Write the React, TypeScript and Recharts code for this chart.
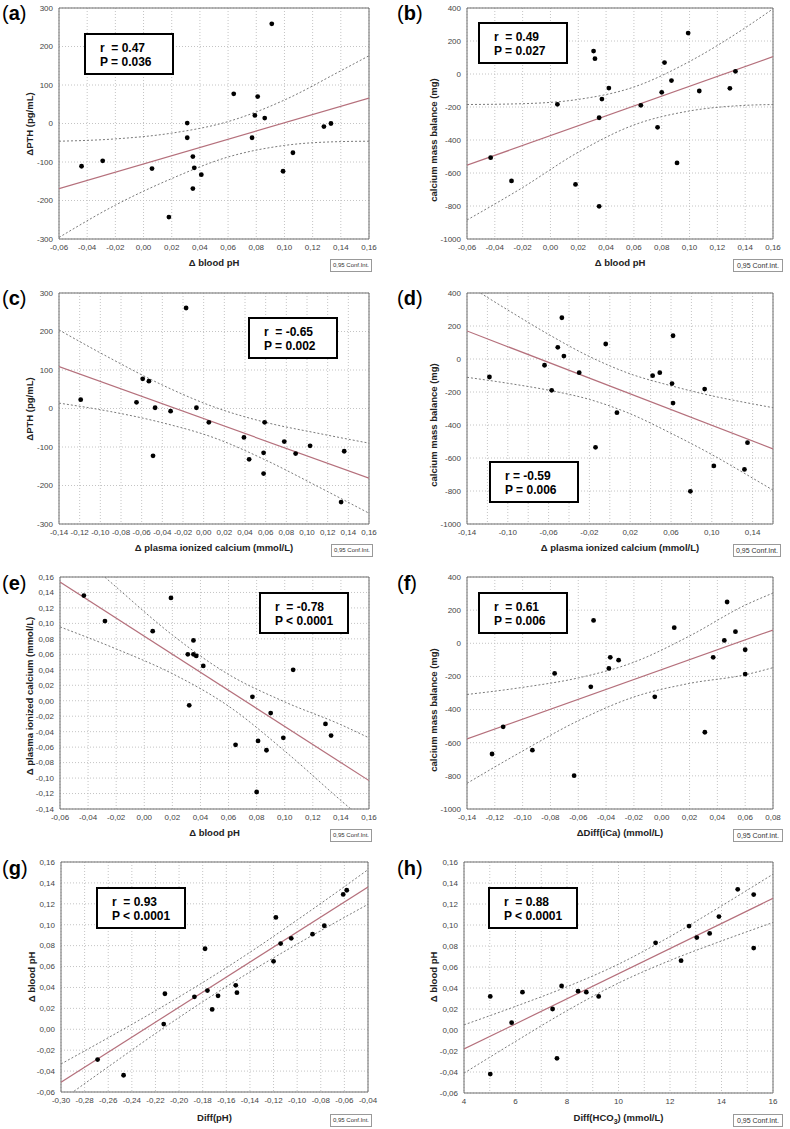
import React from "react";
import {
  ComposedChart,
  XAxis,
  YAxis,
  CartesianGrid,
  Scatter,
  Line,
  ReferenceArea
} from "recharts";

// ---------- (a) delta blood pH vs delta PTH ----------
const aX = [-0.044, -0.029, 0.006, 0.018, 0.031, 0.031, 0.035, 0.036, 0.035, 0.041, 0.064, 0.077, 0.081, 0.079, 0.086, 0.091, 0.099, 0.106, 0.128, 0.133];
const aY = [-111, -97, -117, -243, 1, -37, -86, -115, -169, -133, 77, -37, 70, 21, 14, 259, -124, -76, -8, 0];
const aFit = [-169, 66];
const aBandX = [-0.06, -0.02, 0.02, 0.06, 0.1, 0.14, 0.16];
const aUpper = [-46, -40, -25, 5, 61, 137, 176];
const aLower = [-296, -212, -143, -87, -57, -47, -46];

// ---------- (b) delta blood pH vs calcium mass balance ----------
const bX = [-0.043, -0.028, 0.005, 0.018, 0.031, 0.032, 0.035, 0.035, 0.037, 0.042, 0.065, 0.077, 0.08, 0.082, 0.087, 0.091, 0.099, 0.107, 0.129, 0.133];
const bY = [-507, -648, -184, -669, 139, 93, -265, -802, -152, -85, -190, -323, -111, 69, -40, -539, 248, -103, -87, 16];
const bFit = [-553, 105];
const bBandX = [-0.06, -0.02, 0.02, 0.06, 0.1, 0.14, 0.16];
const bUpper = [-185, -180, -154, -79, 76, 280, 395];
const bLower = [-885, -688, -474, -309, -224, -190, -185];

// ---------- (c) delta ionized calcium vs delta PTH ----------
const cX = [-0.119, -0.065, -0.059, -0.053, -0.047, -0.049, -0.032, -0.017, -0.007, 0.005, 0.039, 0.044, 0.058, 0.059, 0.058, 0.078, 0.089, 0.103, 0.133, 0.136];
const cY = [23, 16, 77, 71, 2, -123, -7, 261, 2, -36, -75, -132, -115, -36, -169, -86, -117, -97, -243, -111];
const cFit = [109, -181];
const cBandX = [-0.14, -0.09, -0.04, 0.01, 0.06, 0.11, 0.16];
const cUpper = [204, 130, 61, 4, -36, -64, -90];
const cLower = [14, -8, -37, -76, -134, -202, -272];

// ---------- (d) delta ionized calcium vs calcium mass balance ----------
const dX = [-0.118, -0.064, -0.057, -0.051, -0.047, -0.045, -0.03, -0.014, -0.004, 0.007, 0.042, 0.049, 0.061, 0.062, 0.062, 0.079, 0.093, 0.102, 0.132, 0.135];
const dY = [-109, -38, -190, 71, 250, 18, -83, -535, 91, -325, -101, -83, -149, 141, -267, -802, -182, -648, -669, -507];
const dFit = [170, -545];
const dBandX = [-0.14, -0.1, -0.06, -0.02, 0.02, 0.06, 0.1, 0.14, 0.16];
const dUpper = [451, 297, 149, 15, -90, -162, -223, -272, -295];
const dLower = [-111, -147, -189, -245, -332, -450, -579, -722, -795];

// ---------- (e) delta blood pH vs delta ionized calcium ----------
const eX = [-0.043, -0.028, 0.006, 0.019, 0.031, 0.032, 0.035, 0.035, 0.037, 0.042, 0.065, 0.077, 0.08, 0.081, 0.087, 0.09, 0.099, 0.106, 0.129, 0.133];
const eY = [0.136, 0.103, 0.09, 0.133, 0.06, -0.006, 0.078, 0.06, 0.058, 0.045, -0.057, 0.005, -0.118, -0.052, -0.064, -0.016, -0.048, 0.04, -0.03, -0.045];
const eFit = [0.1535, -0.1033];
const eBandX = [-0.06, -0.02, 0.02, 0.06, 0.1, 0.14, 0.16];
const eUpper = [0.2115, 0.147, 0.085, 0.034, -0.0015, -0.031, -0.048];
const eLower = [0.0955, 0.067, 0.035, -0.007, -0.065, -0.129, -0.16];

// ---------- (f) delta Diff(iCa) vs calcium mass balance ----------
const fX = [-0.122, -0.114, -0.093, -0.077, -0.063, -0.051, -0.049, -0.038, -0.037, -0.031, -0.005, 0.009, 0.031, 0.037, 0.045, 0.047, 0.053, 0.06, 0.06];
const fY = [-668, -504, -645, -182, -799, -263, 138, -152, -85, -102, -323, 94, -537, -85, 17, 249, 70, -39, -186];
const fFit = [-577, 80];
const fBandX = [-0.14, -0.1, -0.06, -0.02, 0.02, 0.06, 0.08];
const fUpper = [-309, -266, -209, -114, 44, 230, 303];
const fLower = [-845, -650, -467, -324, -242, -190, -147];

// ---------- (g) Diff(pH) vs delta blood pH ----------
const gX = [-0.269, -0.247, -0.213, -0.212, -0.187, -0.178, -0.176, -0.172, -0.167, -0.152, -0.151, -0.12, -0.118, -0.114, -0.105, -0.087, -0.077, -0.061, -0.058];
const gY = [-0.029, -0.044, 0.005, 0.034, 0.031, 0.077, 0.037, 0.019, 0.032, 0.042, 0.035, 0.065, 0.107, 0.082, 0.087, 0.091, 0.099, 0.129, 0.133];
const gFit = [-0.0507, 0.1361];
const gBandX = [-0.3, -0.26, -0.22, -0.18, -0.14, -0.1, -0.06, -0.04];
const gUpper = [-0.0332, -0.0081, 0.0177, 0.0447, 0.0736, 0.1045, 0.1364, 0.1527];
const gLower = [-0.0682, -0.0359, -0.0041, 0.0263, 0.0548, 0.0815, 0.107, 0.1195];

// ---------- (h) Diff(HCO3) vs delta blood pH ----------
const hX = [5.02, 5.02, 5.85, 6.27, 7.44, 7.61, 7.79, 8.43, 8.75, 9.23, 11.44, 12.43, 12.74, 13.04, 13.54, 13.9, 14.63, 15.25, 15.25];
const hY = [0.032, -0.042, 0.007, 0.036, 0.02, -0.027, 0.042, 0.037, 0.036, 0.032, 0.083, 0.066, 0.099, 0.088, 0.092, 0.108, 0.134, 0.129, 0.078];
const hFit = [-0.0181, 0.1254];
const hBandX = [4, 6, 8, 10, 12, 14, 16];
const hUpper = [0.0049, 0.0225, 0.0412, 0.0627, 0.089, 0.1182, 0.1484];
const hLower = [-0.0411, -0.0109, 0.0184, 0.0447, 0.0662, 0.0848, 0.1024];

// ---------- axis ticks ----------
const pHTicks = [-0.06, -0.04, -0.02, 0, 0.02, 0.04, 0.06, 0.08, 0.1, 0.12, 0.14, 0.16];
const iCaTicks = [-0.14, -0.12, -0.1, -0.08, -0.06, -0.04, -0.02, 0, 0.02, 0.04, 0.06, 0.08, 0.1, 0.12, 0.14, 0.16];
const iCaLabelsD = [-0.14, -0.1, -0.06, -0.02, 0.02, 0.06, 0.1, 0.14];
const diffICaTicks = [-0.14, -0.12, -0.1, -0.08, -0.06, -0.04, -0.02, 0, 0.02, 0.04, 0.06, 0.08];
const diffPHTicks = [-0.3, -0.28, -0.26, -0.24, -0.22, -0.2, -0.18, -0.16, -0.14, -0.12, -0.1, -0.08, -0.06, -0.04];
const hco3Ticks = [4, 5, 6, 7, 8, 9, 10, 11, 12, 13, 14, 15, 16];
const hco3Labels = [4, 6, 8, 10, 12, 14, 16];
const pthTicks = [-300, -200, -100, 0, 100, 200, 300];
const balanceTicks = [-1000, -800, -600, -400, -200, 0, 200, 400];
const ionTicks = [-0.14, -0.12, -0.1, -0.08, -0.06, -0.04, -0.02, 0, 0.02, 0.04, 0.06, 0.08, 0.1, 0.12, 0.14, 0.16];
const bloodPHTicks = [-0.06, -0.04, -0.02, 0, 0.02, 0.04, 0.06, 0.08, 0.1, 0.12, 0.14, 0.16];

const FONT = "'Liberation Sans', Arial, sans-serif";

const zip = (xs: number[], ys: number[]) => xs.map((x, i) => ({ x, y: ys[i] }));

const dec2 = (v: number) => (Math.abs(v) < 1e-9 ? "0.00" : v.toFixed(2)).replace(".", ",");
const int0 = (v: number) => String(Math.round(v));
const only = (labels: number[], f: (v: number) => string) => (v: number) =>
  labels.some((l) => Math.abs(l - v) < 1e-9) ? f(v) : "";

interface PanelProps {
  letter: string;
  left: number;
  top: number;
  height: number;
  plot: [number, number, number, number]; // left, right, top, bottom
  xDomain: [number, number];
  yDomain: [number, number];
  xTicks: number[];
  yTicks: number[];
  xFmt: (v: number) => string;
  yFmt: (v: number) => string;
  xs: number[];
  ys: number[];
  fit: number[];
  bandX: number[];
  upper: number[];
  lower: number[];
  xTitle: React.ReactNode;
  yTitle: string;
  yTitlePos: [number, number];
  stats: [string, string];
  statsPos: [number, number];
  conf: [number, number];
}

const Panel: React.FC<PanelProps> = (p) => {
  const [pl, pr, pt, pb] = p.plot;
  const W = 395;
  const xAxisH = 20;
  const tickStyle = { fontSize: 8, fill: "#444", fontFamily: FONT };
  return (
    <div style={{ position: "absolute", left: p.left, top: p.top, width: W, height: p.height, fontFamily: FONT }}>
      <ComposedChart
        width={W}
        height={p.height}
        margin={{ top: pt, right: W - pr, left: 0, bottom: p.height - pb - xAxisH }}
      >
        <CartesianGrid stroke="#c4c4c4" strokeDasharray="1 2" />
        <XAxis
          type="number"
          dataKey="x"
          domain={p.xDomain}
          ticks={p.xTicks}
          interval={0}
          allowDataOverflow
          tickFormatter={p.xFmt}
          tick={tickStyle}
          tickLine={false}
          axisLine={false}
          tickSize={0}
          tickMargin={5}
          height={xAxisH}
        />
        <YAxis
          type="number"
          dataKey="y"
          domain={p.yDomain}
          ticks={p.yTicks}
          interval={0}
          allowDataOverflow
          tickFormatter={p.yFmt}
          tick={tickStyle}
          tickLine={false}
          axisLine={false}
          tickSize={0}
          tickMargin={6}
          width={pl}
        />
        <ReferenceArea
          x1={p.xDomain[0]}
          x2={p.xDomain[1]}
          y1={p.yDomain[0]}
          y2={p.yDomain[1]}
          fill="none"
          stroke="#6e6e6e"
          strokeWidth={1}
          ifOverflow="visible"
        />
        <Line
          data={zip(p.bandX, p.upper)}
          dataKey="y"
          type="monotone"
          stroke="#7a7a7a"
          strokeWidth={1}
          strokeDasharray="2 2"
          dot={false}
          activeDot={false}
          isAnimationActive={false}
        />
        <Line
          data={zip(p.bandX, p.lower)}
          dataKey="y"
          type="monotone"
          stroke="#7a7a7a"
          strokeWidth={1}
          strokeDasharray="2 2"
          dot={false}
          activeDot={false}
          isAnimationActive={false}
        />
        <Line
          data={zip(p.xDomain, p.fit)}
          dataKey="y"
          type="linear"
          stroke="#b5707c"
          strokeWidth={1.2}
          dot={false}
          activeDot={false}
          isAnimationActive={false}
        />
        <Scatter
          data={zip(p.xs, p.ys)}
          fill="#000"
          isAnimationActive={false}
          shape={(s: any) => <circle cx={s.cx} cy={s.cy} r={2.4} fill="#000" />}
        />
      </ComposedChart>

      {/* panel letter */}
      <div style={{ position: "absolute", left: 2, top: 3, fontSize: 20, lineHeight: "20px", color: "#000" }}>
        (<b>{p.letter}</b>)
      </div>

      {/* x title */}
      <div
        style={{
          position: "absolute",
          left: pl,
          width: pr - pl,
          top: 257,
          textAlign: "center",
          fontSize: 9.5,
          fontWeight: "bold",
          lineHeight: "12px",
          color: "#222"
        }}
      >
        {p.xTitle}
      </div>

      {/* y title */}
      <div
        style={{
          position: "absolute",
          left: p.yTitlePos[0] - 120,
          top: p.yTitlePos[1] - 6,
          width: 240,
          height: 12,
          textAlign: "center",
          fontSize: 9.5,
          fontWeight: "bold",
          lineHeight: "12px",
          color: "#222",
          transform: "rotate(-90deg)"
        }}
      >
        {p.yTitle}
      </div>

      {/* stats box */}
      <div
        style={{
          position: "absolute",
          left: p.statsPos[0],
          top: p.statsPos[1],
          width: 90,
          height: 42,
          boxSizing: "border-box",
          border: "2px solid #000",
          background: "#fff",
          paddingLeft: 14,
          paddingTop: 6,
          fontSize: 12,
          fontWeight: "bold",
          lineHeight: "14px",
          whiteSpace: "pre",
          color: "#000"
        }}
      >
        {p.stats[0]}
        {"\n"}
        {p.stats[1]}
      </div>

      {/* confidence legend */}
      <div
        style={{
          position: "absolute",
          left: p.conf[0],
          width: p.conf[1],
          top: 259,
          height: 13,
          boxSizing: "border-box",
          border: "1px solid #999",
          fontSize: p.conf[1] < 45 ? 6 : 7,
          lineHeight: "11px",
          textAlign: "center",
          whiteSpace: "nowrap",
          color: "#333",
          background: "#fff"
        }}
      >
        0,95 Conf.Int.
      </div>
    </div>
  );
};

export default function App() {
  return (
    <div style={{ position: "absolute", left: 0, top: 0, width: 790, height: 1129, background: "#fff", overflow: "hidden" }}>
      <Panel
        letter="a" left={0} top={0} height={285} plot={[59, 369, 8, 239]}
        xDomain={[-0.06, 0.16]} yDomain={[-300, 300]} xTicks={pHTicks} yTicks={pthTicks}
        xFmt={dec2} yFmt={int0} xs={aX} ys={aY} fit={aFit} bandX={aBandX} upper={aUpper} lower={aLower}
        xTitle="Δ blood pH" yTitle="ΔPTH (pg/mL)" yTitlePos={[30, 124]}
        stats={["r  = 0.47", "P = 0.036"]} statsPos={[84, 33]} conf={[330, 42]}
      />
      <Panel
        letter="b" left={395} top={0} height={285} plot={[72, 378, 8, 239]}
        xDomain={[-0.06, 0.16]} yDomain={[-1000, 400]} xTicks={pHTicks} yTicks={balanceTicks}
        xFmt={dec2} yFmt={int0} xs={bX} ys={bY} fit={bFit} bandX={bBandX} upper={bUpper} lower={bLower}
        xTitle="Δ blood pH" yTitle="calcium mass balance (mg)" yTitlePos={[39, 140]}
        stats={["r  = 0.49", "P = 0.027"]} statsPos={[83, 22]} conf={[338, 50]}
      />
      <Panel
        letter="c" left={0} top={285} height={285} plot={[59, 369, 8, 239]}
        xDomain={[-0.14, 0.16]} yDomain={[-300, 300]} xTicks={iCaTicks} yTicks={pthTicks}
        xFmt={dec2} yFmt={int0} xs={cX} ys={cY} fit={cFit} bandX={cBandX} upper={cUpper} lower={cLower}
        xTitle="Δ plasma ionized calcium (mmol/L)" yTitle="ΔPTH (pg/mL)" yTitlePos={[30, 124]}
        stats={["r  = -0.65", "P = 0.002"]} statsPos={[248, 32]} conf={[331, 42]}
      />
      <Panel
        letter="d" left={395} top={285} height={285} plot={[72, 378, 8, 239]}
        xDomain={[-0.14, 0.16]} yDomain={[-1000, 400]} xTicks={iCaTicks} yTicks={balanceTicks}
        xFmt={only(iCaLabelsD, dec2)} yFmt={int0} xs={dX} ys={dY} fit={dFit} bandX={dBandX} upper={dUpper} lower={dLower}
        xTitle="Δ plasma ionized calcium (mmol/L)" yTitle="calcium mass balance (mg)" yTitlePos={[39, 140]}
        stats={["r = -0.59", "P = 0.006"]} statsPos={[94, 176]} conf={[338, 48]}
      />
      <Panel
        letter="e" left={0} top={570} height={285} plot={[60, 369, 7, 239]}
        xDomain={[-0.06, 0.16]} yDomain={[-0.14, 0.16]} xTicks={bloodPHTicks} yTicks={ionTicks}
        xFmt={dec2} yFmt={dec2} xs={eX} ys={eY} fit={eFit} bandX={eBandX} upper={eUpper} lower={eLower}
        xTitle="Δ blood pH" yTitle="Δ plasma ionized calcium (mmol/L)" yTitlePos={[30, 126]}
        stats={["r  = -0.78", "P < 0.0001"]} statsPos={[259, 22]} conf={[330, 42]}
      />
      <Panel
        letter="f" left={395} top={570} height={285} plot={[72, 378, 7, 239]}
        xDomain={[-0.14, 0.08]} yDomain={[-1000, 400]} xTicks={diffICaTicks} yTicks={balanceTicks}
        xFmt={dec2} yFmt={int0} xs={fX} ys={fY} fit={fFit} bandX={fBandX} upper={fUpper} lower={fLower}
        xTitle="ΔDiff(iCa) (mmol/L)" yTitle="calcium mass balance (mg)" yTitlePos={[39, 140]}
        stats={["r  = 0.61", "P = 0.006"]} statsPos={[83, 22]} conf={[338, 50]}
      />
      <Panel
        letter="g" left={0} top={855} height={274} plot={[61, 368, 7, 237]}
        xDomain={[-0.3, -0.04]} yDomain={[-0.06, 0.16]} xTicks={diffPHTicks} yTicks={bloodPHTicks}
        xFmt={dec2} yFmt={dec2} xs={gX} ys={gY} fit={gFit} bandX={gBandX} upper={gUpper} lower={gLower}
        xTitle="Diff(pH)" yTitle="Δ blood pH" yTitlePos={[32, 122]}
        stats={["r  = 0.93", "P < 0.0001"]} statsPos={[96, 32]} conf={[330, 42]}
      />
      <Panel
        letter="h" left={395} top={855} height={274} plot={[69, 378, 7, 238]}
        xDomain={[4, 16]} yDomain={[-0.06, 0.16]} xTicks={hco3Ticks} yTicks={bloodPHTicks}
        xFmt={only(hco3Labels, int0)} yFmt={dec2} xs={hX} ys={hY} fit={hFit} bandX={hBandX} upper={hUpper} lower={hLower}
        xTitle={<span>Diff(HCO<sub style={{ fontSize: 7 }}>3</sub>) (mmol/L)</span>}
        yTitle="Δ blood pH" yTitlePos={[39, 122]}
        stats={["r  = 0.88", "P < 0.0001"]} statsPos={[93, 32]} conf={[338, 50]}
      />
    </div>
  );
}
